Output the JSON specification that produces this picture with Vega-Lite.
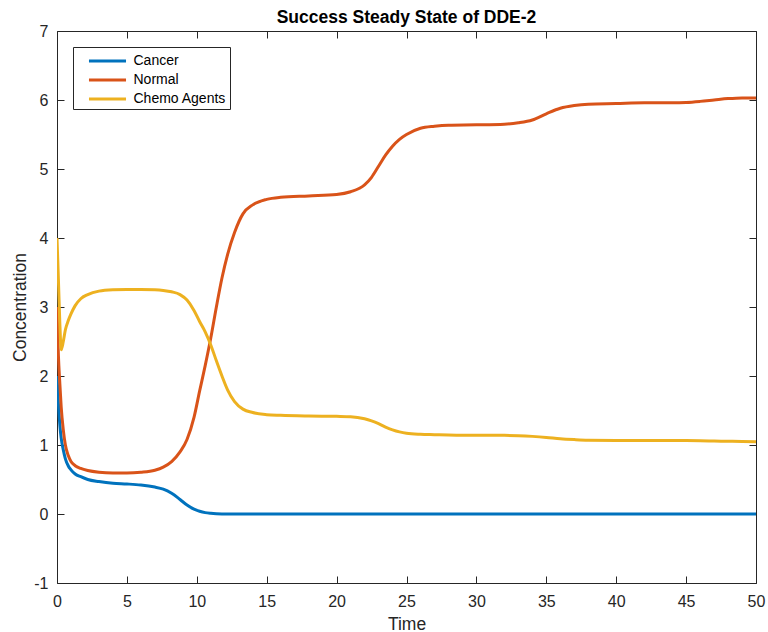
{
  "$schema": "https://vega.github.io/schema/vega-lite/v6.json",
  "width": 699,
  "height": 552,
  "autosize": "none",
  "padding": {"left": 57, "top": 31, "right": 12, "bottom": 49},
  "background": "white",
  "config": {
    "view": {"stroke": null},
    "font": "Liberation Sans",
    "axis": {
      "grid": false,
      "domainColor": "#262626",
      "domainWidth": 1,
      "tickColor": "#262626",
      "tickWidth": 1,
      "tickSize": -7,
      "labelColor": "#262626",
      "labelFont": "Liberation Sans",
      "labelFontSize": 16,
      "labelFlush": false,
      "titleFont": "Liberation Sans",
      "titleFontSize": 17.5,
      "titleFontWeight": "normal",
      "titleColor": "#262626"
    }
  },
  "title": {
    "text": "Success Steady State of DDE-2",
    "font": "Liberation Sans",
    "fontSize": 17.5,
    "fontWeight": "bold",
    "color": "black",
    "offset": 7,
    "dy": 10
  },
  "data": {
    "values": [
      {"t": 0, "Cancer": 2.0, "Normal": 3.0, "Chemo Agents": 4.0},
      {"t": 0.1, "Cancer": 1.6, "Normal": 2.3, "Chemo Agents": 3.4},
      {"t": 0.2, "Cancer": 1.3, "Normal": 1.9, "Chemo Agents": 2.78},
      {"t": 0.3, "Cancer": 1.1, "Normal": 1.55, "Chemo Agents": 2.38},
      {"t": 0.45, "Cancer": 0.93, "Normal": 1.22, "Chemo Agents": 2.5},
      {"t": 0.6, "Cancer": 0.8, "Normal": 1.0, "Chemo Agents": 2.67},
      {"t": 0.8, "Cancer": 0.7, "Normal": 0.85, "Chemo Agents": 2.8},
      {"t": 1.0, "Cancer": 0.64, "Normal": 0.76, "Chemo Agents": 2.9},
      {"t": 1.3, "Cancer": 0.58, "Normal": 0.7, "Chemo Agents": 3.02},
      {"t": 1.7, "Cancer": 0.54, "Normal": 0.66, "Chemo Agents": 3.12},
      {"t": 2.2, "Cancer": 0.5, "Normal": 0.63, "Chemo Agents": 3.18},
      {"t": 3, "Cancer": 0.47, "Normal": 0.605, "Chemo Agents": 3.23},
      {"t": 4, "Cancer": 0.445, "Normal": 0.594, "Chemo Agents": 3.25},
      {"t": 5, "Cancer": 0.435, "Normal": 0.594, "Chemo Agents": 3.255},
      {"t": 6, "Cancer": 0.42, "Normal": 0.605, "Chemo Agents": 3.255},
      {"t": 7, "Cancer": 0.39, "Normal": 0.635, "Chemo Agents": 3.25},
      {"t": 7.6, "Cancer": 0.36, "Normal": 0.68, "Chemo Agents": 3.24},
      {"t": 8.2, "Cancer": 0.3, "Normal": 0.76, "Chemo Agents": 3.22},
      {"t": 8.8, "Cancer": 0.21, "Normal": 0.9, "Chemo Agents": 3.18},
      {"t": 9.3, "Cancer": 0.13, "Normal": 1.08, "Chemo Agents": 3.1},
      {"t": 9.8, "Cancer": 0.07, "Normal": 1.4, "Chemo Agents": 2.95},
      {"t": 10.2, "Cancer": 0.04, "Normal": 1.78, "Chemo Agents": 2.79},
      {"t": 10.6, "Cancer": 0.02, "Normal": 2.15, "Chemo Agents": 2.64},
      {"t": 11, "Cancer": 0.01, "Normal": 2.55, "Chemo Agents": 2.45},
      {"t": 11.4, "Cancer": 0.004, "Normal": 3.0, "Chemo Agents": 2.22},
      {"t": 11.8, "Cancer": 0.001, "Normal": 3.42, "Chemo Agents": 2.0},
      {"t": 12.2, "Cancer": 0, "Normal": 3.76, "Chemo Agents": 1.8},
      {"t": 12.7, "Cancer": 0, "Normal": 4.08, "Chemo Agents": 1.63},
      {"t": 13.3, "Cancer": 0, "Normal": 4.35, "Chemo Agents": 1.52},
      {"t": 14, "Cancer": 0, "Normal": 4.48, "Chemo Agents": 1.47},
      {"t": 15, "Cancer": 0, "Normal": 4.56, "Chemo Agents": 1.44},
      {"t": 16, "Cancer": 0, "Normal": 4.59, "Chemo Agents": 1.43},
      {"t": 18, "Cancer": 0, "Normal": 4.61, "Chemo Agents": 1.42},
      {"t": 20, "Cancer": 0, "Normal": 4.63, "Chemo Agents": 1.415},
      {"t": 21, "Cancer": 0, "Normal": 4.67, "Chemo Agents": 1.41},
      {"t": 22, "Cancer": 0, "Normal": 4.77, "Chemo Agents": 1.38},
      {"t": 22.5, "Cancer": 0, "Normal": 4.88, "Chemo Agents": 1.35},
      {"t": 23, "Cancer": 0, "Normal": 5.04, "Chemo Agents": 1.31},
      {"t": 23.5, "Cancer": 0, "Normal": 5.2, "Chemo Agents": 1.26},
      {"t": 24, "Cancer": 0, "Normal": 5.33, "Chemo Agents": 1.22},
      {"t": 24.5, "Cancer": 0, "Normal": 5.43, "Chemo Agents": 1.19},
      {"t": 25, "Cancer": 0, "Normal": 5.5, "Chemo Agents": 1.17},
      {"t": 26, "Cancer": 0, "Normal": 5.59, "Chemo Agents": 1.155},
      {"t": 27, "Cancer": 0, "Normal": 5.62, "Chemo Agents": 1.15},
      {"t": 28, "Cancer": 0, "Normal": 5.635, "Chemo Agents": 1.145},
      {"t": 30, "Cancer": 0, "Normal": 5.64, "Chemo Agents": 1.14},
      {"t": 32, "Cancer": 0, "Normal": 5.65, "Chemo Agents": 1.14},
      {"t": 33, "Cancer": 0, "Normal": 5.67, "Chemo Agents": 1.135},
      {"t": 34, "Cancer": 0, "Normal": 5.71, "Chemo Agents": 1.125},
      {"t": 35, "Cancer": 0, "Normal": 5.8, "Chemo Agents": 1.11},
      {"t": 36, "Cancer": 0, "Normal": 5.88, "Chemo Agents": 1.09},
      {"t": 37, "Cancer": 0, "Normal": 5.92, "Chemo Agents": 1.078},
      {"t": 38, "Cancer": 0, "Normal": 5.94, "Chemo Agents": 1.07},
      {"t": 40, "Cancer": 0, "Normal": 5.95, "Chemo Agents": 1.067},
      {"t": 42, "Cancer": 0, "Normal": 5.96, "Chemo Agents": 1.067},
      {"t": 44, "Cancer": 0, "Normal": 5.96, "Chemo Agents": 1.066},
      {"t": 45, "Cancer": 0, "Normal": 5.965, "Chemo Agents": 1.065},
      {"t": 46, "Cancer": 0, "Normal": 5.98, "Chemo Agents": 1.062},
      {"t": 47, "Cancer": 0, "Normal": 6.0, "Chemo Agents": 1.058},
      {"t": 48, "Cancer": 0, "Normal": 6.02, "Chemo Agents": 1.054},
      {"t": 49, "Cancer": 0, "Normal": 6.03, "Chemo Agents": 1.05},
      {"t": 50, "Cancer": 0, "Normal": 6.03, "Chemo Agents": 1.048}
    ]
  },
  "transform": [
    {"fold": ["Cancer", "Normal", "Chemo Agents"], "as": ["series", "value"]}
  ],
  "layer": [
    {
      "mark": {"type": "line", "strokeWidth": 3, "interpolate": "monotone", "clip": true},
      "encoding": {
        "x": {
          "field": "t",
          "type": "quantitative",
          "scale": {"domain": [0, 50], "nice": false, "zero": false},
          "axis": {
            "orient": "bottom",
            "title": "Time",
            "values": [0, 5, 10, 15, 20, 25, 30, 35, 40, 45, 50],
            "labelPadding": 17,
            "titlePadding": 6
          }
        },
        "y": {
          "field": "value",
          "type": "quantitative",
          "scale": {"domain": [-1, 7], "nice": false, "zero": false},
          "axis": {
            "orient": "left",
            "title": "Concentration",
            "values": [-1, 0, 1, 2, 3, 4, 5, 6, 7],
            "labelExpr": "datum.value + ''",
            "labelPadding": 16,
            "titlePadding": 4
          }
        },
        "color": {
          "field": "series",
          "type": "nominal",
          "scale": {
            "domain": ["Cancer", "Normal", "Chemo Agents"],
            "range": ["#0072BD", "#D95319", "#EDB120"]
          },
          "legend": {
            "orient": "none",
            "legendX": 16,
            "legendY": 16,
            "title": null,
            "strokeColor": "#262626",
            "fillColor": "white",
            "padding": 3,
            "symbolType": "M-1.95,0H1.95",
            "symbolSize": 361,
            "symbolStrokeWidth": 3,
            "symbolOffset": 20.5,
            "rowPadding": 1,
            "labelFont": "Liberation Sans",
            "labelFontSize": 14,
            "labelColor": "black",
            "labelOffset": 15
          }
        }
      }
    },
    {
      "mark": {"type": "line", "opacity": 0},
      "encoding": {
        "x": {
          "field": "t",
          "type": "quantitative",
          "axis": {
            "orient": "top",
            "title": null,
            "labels": false,
            "minExtent": 0,
            "maxExtent": 0,
            "values": [0, 5, 10, 15, 20, 25, 30, 35, 40, 45, 50]
          }
        },
        "y": {
          "field": "value",
          "type": "quantitative",
          "axis": {
            "orient": "right",
            "title": null,
            "labels": false,
            "minExtent": 0,
            "maxExtent": 0,
            "values": [-1, 0, 1, 2, 3, 4, 5, 6, 7]
          }
        }
      }
    }
  ],
  "resolve": {"axis": {"x": "independent", "y": "independent"}}
}
